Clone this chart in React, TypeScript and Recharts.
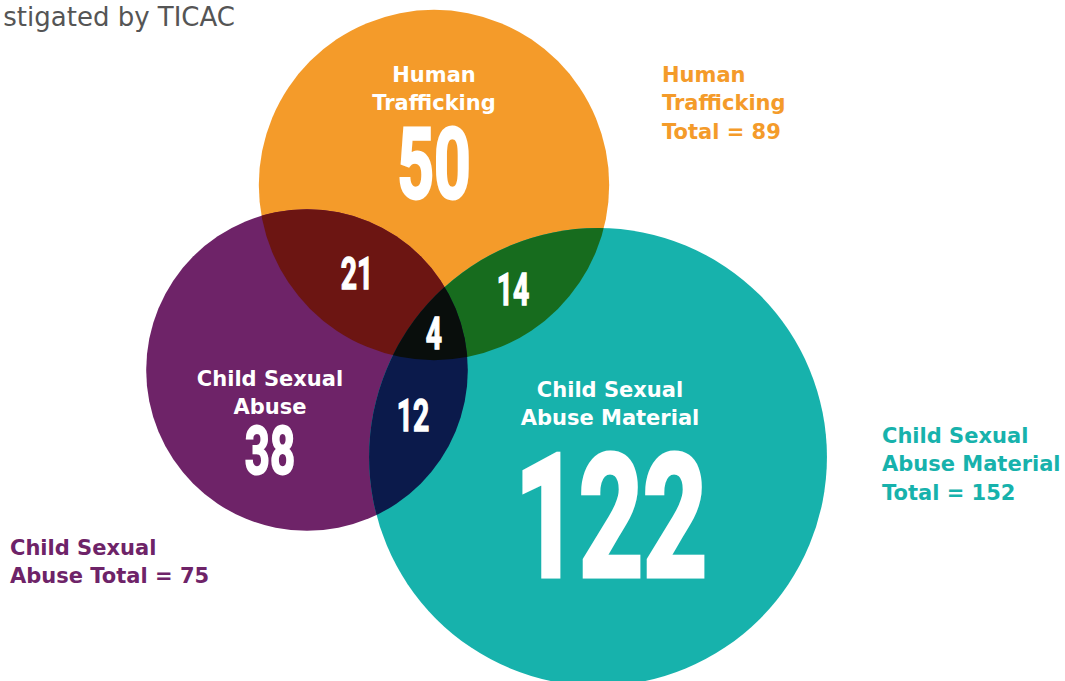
import React from "react";
import { ScatterChart, Scatter, XAxis, YAxis, ZAxis } from "recharts";

const W = 1065;
const H = 681;

// the three sets
const setNames = ["Human Trafficking", "Child Sexual Abuse", "Child Sexual Abuse Material"];
const setTotals = [89, 75, 152];
const setOnlyCounts = [50, 38, 122];
const setCenterX = [434, 307, 598];
const setCenterY = [185, 370, 457];
const setColors = ["#F49B2A", "#6E2368", "#17B2AC"];

// overlaps (indices into the sets above)
const overlapMembers = [[0, 1], [0, 2], [1, 2], [0, 1, 2]];
const overlapCounts = [21, 14, 12, 4];
const overlapColors = ["#6C1512", "#176C1E", "#0B1A4B", "#090E0C"];

// where the labels sit
const onlyLabelX = [434, 270, 611];
const onlyLabelY = [163, 450, 515];
const overlapLabelX = [357, 513, 413, 434];
const overlapLabelY = [273, 289, 415, 333];
const nameLines = [["Human", "Trafficking"], ["Child Sexual", "Abuse"], ["Child Sexual", "Abuse Material"]];
const nameLabelX = [434, 270, 610];
const nameLabelY = [74, 378, 389];
const totalLines = [
  ["Human", "Trafficking", `Total = ${setTotals[0]}`],
  ["Child Sexual", `Abuse Total = ${setTotals[1]}`],
  ["Child Sexual", "Abuse Material", `Total = ${setTotals[2]}`],
];
const totalLabelX = [662, 10, 882];
const totalLabelY = [74, 547, 435];

// area per case, so the radius follows sqrt(total)
const AREA_PER_CASE = Math.PI * 18.57 * 18.57;

const circleData = setNames.map((name, i) => ({
  name,
  idx: i,
  x: setCenterX[i],
  y: setCenterY[i],
  total: setTotals[i],
}));

const overlapData = overlapMembers.map((m, i) => {
  const base = m[m.length - 1];
  return {
    x: setCenterX[base],
    y: setCenterY[base],
    total: setTotals[base],
    clips: m.slice(0, -1),
    color: overlapColors[i],
  };
});

const numberData = [
  ...setOnlyCounts.map((v, i) => ({ x: onlyLabelX[i], y: onlyLabelY[i], text: String(v), big: i })),
  ...overlapCounts.map((v, i) => ({ x: overlapLabelX[i], y: overlapLabelY[i], text: String(v), big: -1 })),
];
const bigHeights = [70, 48, 122];

const nameData = nameLines.map((lines, i) => ({ x: nameLabelX[i], y: nameLabelY[i], lines }));
const totalData = totalLines.map((lines, i) => ({
  x: totalLabelX[i],
  y: totalLabelY[i],
  lines,
  color: setColors[i],
}));

const CircleShape = (props: any) => {
  const { cx, cy, width, payload } = props;
  const r = width / 2;
  return (
    <g>
      <defs>
        <clipPath id={`set-clip-${payload.idx}`}>
          <circle cx={cx} cy={cy} r={r} />
        </clipPath>
      </defs>
      <circle cx={cx} cy={cy} r={r} fill={setColors[payload.idx]} />
    </g>
  );
};

const OverlapShape = (props: any) => {
  const { cx, cy, width, payload } = props;
  let el = <circle cx={cx} cy={cy} r={width / 2} fill={payload.color} />;
  payload.clips.forEach((c: number) => {
    el = <g clipPath={`url(#set-clip-${c})`}>{el}</g>;
  });
  return el;
};

// tall condensed numbers: Roboto bold squeezed sideways, thickened with a stroke
const NumberShape = (props: any) => {
  const { cx, cy, payload } = props;
  const h = payload.big >= 0 ? bigHeights[payload.big] : 31;
  const fs = h / 0.711;
  return (
    <g transform={`translate(${cx},${cy + h / 2}) scale(0.65,1)`}>
      <text
        x={0}
        y={0}
        textAnchor="middle"
        fill="#fff"
        stroke="#fff"
        strokeWidth={fs * 0.03}
        strokeLinejoin="miter"
        fontFamily="Roboto"
        fontWeight={700}
        fontSize={fs}
      >
        {payload.text}
      </text>
    </g>
  );
};

const LinesShape = (anchor: "middle" | "start") => (props: any) => {
  const { cx, cy, payload } = props;
  return (
    <text
      textAnchor={anchor}
      fill={payload.color || "#fff"}
      fontFamily="'DejaVu Sans'"
      fontWeight={700}
      fontSize={21}
    >
      {payload.lines.map((l: string, i: number) => (
        <tspan key={i} x={cx} y={cy + 7.5 + i * 28.5}>
          {l}
        </tspan>
      ))}
    </text>
  );
};

export default function App() {
  return (
    <div style={{ position: "absolute", left: 0, top: 0, width: W, height: H, background: "#fff" }}>
      <div
        style={{
          position: "absolute",
          left: 0,
          top: 2,
          width: 235,
          textAlign: "right",
          whiteSpace: "nowrap",
          fontFamily: "'DejaVu Sans'",
          fontSize: 26,
          lineHeight: "30px",
          color: "#555",
          zIndex: 2,
        }}
      >
        stigated by TICAC
      </div>
      <ScatterChart width={W} height={H} margin={{ top: 0, right: 0, bottom: 0, left: 0 }}>
        <XAxis type="number" dataKey="x" domain={[0, W]} hide />
        <YAxis type="number" dataKey="y" domain={[0, H]} reversed hide />
        <ZAxis type="number" dataKey="total" domain={[0, 200]} range={[0, 200 * AREA_PER_CASE]} />
        <ZAxis zAxisId="text" type="number" range={[1, 1]} />
        <Scatter data={circleData} shape={CircleShape} isAnimationActive={false} />
        <Scatter data={overlapData} shape={OverlapShape} isAnimationActive={false} />
        <Scatter zAxisId="text" data={numberData} shape={NumberShape} isAnimationActive={false} />
        <Scatter zAxisId="text" data={nameData} shape={LinesShape("middle")} isAnimationActive={false} />
        <Scatter zAxisId="text" data={totalData} shape={LinesShape("start")} isAnimationActive={false} />
      </ScatterChart>
    </div>
  );
}
